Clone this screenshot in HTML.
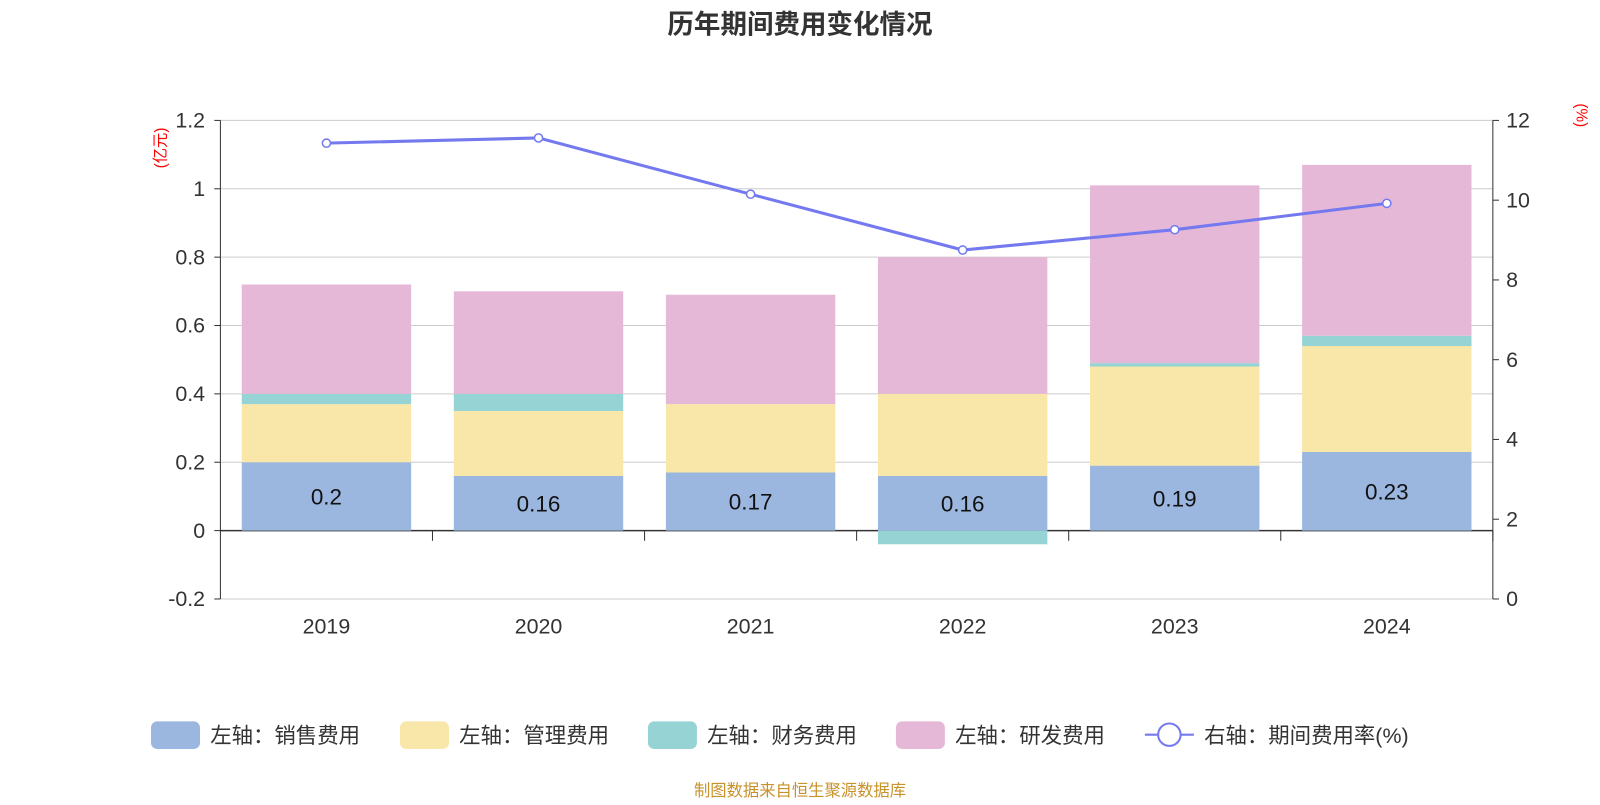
<!DOCTYPE html>
<html><head><meta charset="utf-8"><style>
body{margin:0;background:#fff;width:1600px;height:800px;overflow:hidden;font-family:"Liberation Sans","Noto Sans CJK SC",sans-serif}
</style></head><body>
<svg width="1600" height="800" font-family="Liberation Sans, Noto Sans CJK SC, sans-serif"><g id="c" transform="scale(1.0204)"></g></svg>
<script>
const categories=["2019","2020","2021","2022","2023","2024"];
const sales=[0.2,0.16,0.17,0.16,0.19,0.23];
const mgmt=[0.17,0.19,0.20,0.24,0.29,0.31];
const finance=[0.03,0.05,0.0,-0.04,0.01,0.03];
const rd=[0.32,0.30,0.32,0.40,0.52,0.50];
const rate=[11.43,11.56,10.15,8.75,9.26,9.92];
const leftTicks=[-0.2,0,0.2,0.4,0.6,0.8,1,1.2];
const rightTicks=[0,2,4,6,8,10,12];
const ns="http://www.w3.org/2000/svg",svg=document.getElementById('c');
const X0=216,X1=1463,band=(X1-X0)/categories.length,bw=166;
const yL=v=>520-v*335;
const yR=v=>587-v*(469/12);
const xc=i=>X0+band*(i+0.5);
function el(t,a,txt){const e=document.createElementNS(ns,t);for(const k in a)e.setAttribute(k,a[k]);if(txt!=null)e.textContent=txt;svg.appendChild(e);return e;}
let e=el('text',{x:784,y:33,'text-anchor':'middle','font-size':26,'font-weight':'bold',fill:'#333'},'历年期间费用变化情况');

leftTicks.forEach(v=>{
 e=el('line',{x1:X0,x2:X1,y1:yL(v),y2:yL(v),stroke:v===0?'#333':'#ccc','stroke-width':v===0?1.5:1});
 
 e=el('text',{x:201,y:yL(v)+7,'text-anchor':'end','font-size':21,fill:'#333'},String(v));
 
 el('line',{x1:X0-6,x2:X0,y1:yL(v),y2:yL(v),stroke:'#333'});
});
rightTicks.forEach(v=>{
 el('line',{x1:X1,x2:X1+6,y1:yR(v),y2:yR(v),stroke:'#333'});
 e=el('text',{x:1476,y:yR(v)+7,'font-size':21,fill:'#333'},String(v));
 
});
el('line',{x1:X0,x2:X0,y1:118,y2:587,stroke:'#333'});
el('line',{x1:X1,x2:X1,y1:118,y2:587,stroke:'#333'});
e=el('text',{x:162,y:145,'font-size':15,fill:'red','text-anchor':'middle',transform:'rotate(-90 162 145)'},'(亿元)');

e=el('text',{x:1545,y:113,'font-size':15,fill:'red','text-anchor':'middle',transform:'rotate(90 1545 113)'},'(%)');

const colors=['#9bb7e0','#f8e7a8','#96d3d4','#e6b8d8'];
const series=[sales,mgmt,finance,rd];
categories.forEach((c,i)=>{
 el('line',{x1:X0+band*(i+1),x2:X0+band*(i+1),y1:520,y2:530,stroke:'#333'});
 e=el('text',{x:xc(i),y:621,'text-anchor':'middle','font-size':21,fill:'#333'},c);
 
 let pos=0,neg=0;
 series.forEach((s,k)=>{
  const v=s[i];let a,b;
  if(v>=0){a=pos;b=pos+v;pos=b;}else{a=neg;b=neg+v;neg=b;}
  const r=el('rect',{x:xc(i)-bw/2,y:Math.min(yL(a),yL(b)),width:bw,height:Math.abs(yL(a)-yL(b)),fill:colors[k]});
  
  
 });
 e=el('text',{x:xc(i),y:(yL(0)+yL(sales[i]))/2+8,'text-anchor':'middle','font-size':22,fill:'#111'},String(sales[i]));
 
});
e=el('polyline',{points:rate.map((v,i)=>xc(i)+','+yR(v)).join(' '),fill:'none',stroke:'#7479ef','stroke-width':3});

rate.forEach((v,i)=>{e=el('circle',{cx:xc(i),cy:yR(v),r:4,fill:'#fff',stroke:'#7479ef','stroke-width':1.5});
 });
const leg=[['左轴：销售费用',148],['左轴：管理费用',392],['左轴：财务费用',635],['左轴：研发费用',878]];
leg.forEach((l,k)=>{
 e=el('rect',{x:l[1],y:707,width:48,height:27,rx:6,fill:colors[k]});
 
 e=el('text',{x:l[1]+58,y:728,'font-size':21,fill:'#333'},l[0]);
 
});
el('line',{x1:1122,x2:1170,y1:720,y2:720,stroke:'#7479ef','stroke-width':2});
e=el('circle',{cx:1146,cy:720,r:11,fill:'#fff',stroke:'#7479ef','stroke-width':2});

e=el('text',{x:1180,y:728,'font-size':21,fill:'#333'},'右轴：期间费用率(%)');

e=el('text',{x:784,y:780,'text-anchor':'middle','font-size':16,fill:'#c8922a'},'制图数据来自恒生聚源数据库');

</script></body></html>
